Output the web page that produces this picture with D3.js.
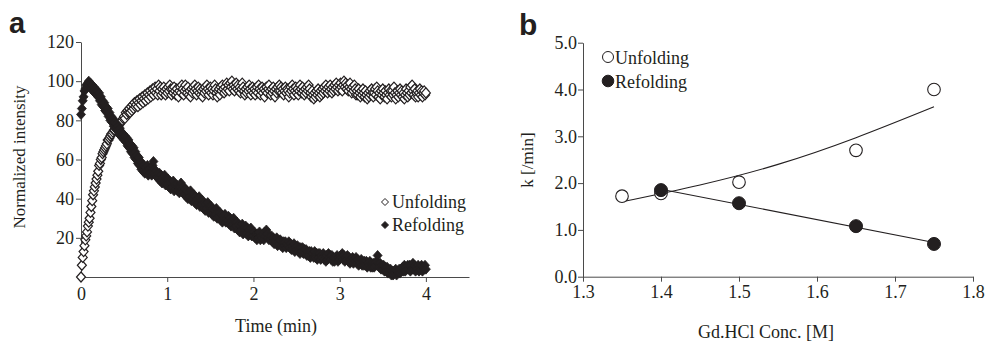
<!DOCTYPE html>
<html>
<head>
<meta charset="utf-8">
<script src="https://cdn.jsdelivr.net/npm/d3@7"></script>
<style>
	body { margin: 0; background: #fff; }
	svg { display: block; font-family: "Liberation Serif", "Times New Roman", serif; }
</style>
</head>
<body>
<svg id="chart" width="987" height="343"></svg>
<script>

// panel a: normalized intensity, one reading every 0.01 min from 0 to 4 min
const timeStep = 0.01;
const unfolding = [
	0,6,10,13,16,19,21,23,26,28,
	30,33,36,39,42,44,46,48,50,52,
	54,57,58,60,61,63,64,65,66,67,
	68,70,70,71,72,73,73,74,75,75,
	76,76,77,77,78,78,79,80,80,81,
	82,81,84,83,85,84,86,84,87,85,
	88,86,89,87,88,90,87,89,91,88,
	90,92,89,91,93,90,92,94,91,93,
	95,92,94,96,93,95,97,94,96,93,
	98,95,97,93,96,94,97,95,93,96,
	94,97,95,98,96,93,96,94,97,95,
	93,96,94,92,95,97,94,98,96,93,
	95,98,96,94,97,93,95,92,96,94,
	97,95,98,96,93,95,97,94,96,93,
	95,92,96,94,97,95,98,96,93,95,
	97,94,96,93,95,98,96,94,92,95,
	96,93,97,95,98,96,94,97,95,99,
	96,98,95,99,97,100,96,98,95,97,
	99,96,98,95,97,94,96,99,97,95,
	93,96,94,97,95,98,96,93,95,97,
	94,96,93,95,97,94,98,96,93,95,
	97,94,96,92,95,97,94,96,98,95,
	93,96,94,97,95,92,96,94,97,95,
	98,95,97,94,96,93,95,97,94,96,
	95,92,94,97,95,98,96,93,95,97,
	94,96,93,95,98,96,94,97,95,93,
	96,94,97,95,98,96,94,92,95,93,
	91,94,92,95,93,96,94,92,95,93,
	96,94,97,95,98,96,94,97,95,98,
	96,94,97,95,98,96,99,97,95,98,
	96,99,97,95,98,100,97,99,96,98,
	95,97,99,96,94,97,95,98,96,93,
	95,93,96,94,92,95,93,96,94,92,
	95,93,91,94,92,95,93,96,94,92,
	94,96,93,97,95,92,94,91,95,93,
	96,94,92,95,93,91,94,96,93,95,
	92,95,93,97,94,91,93,95,92,94,
	96,93,95,92,94,91,93,96,94,92,
	95,93,97,94,98,95,93,96,92,94,
	95,92,94,96,93,95,92,94,95,93,
	94
];
const refolding = [
	83,86,90,92,95,96,98,97,99,100,
	98,99,96,98,95,97,94,96,93,95,
	92,94,90,92,88,90,87,89,85,87,
	84,86,82,84,80,82,79,81,77,79,
	76,78,75,77,73,76,72,74,71,73,
	70,72,69,71,67,70,66,68,64,67,
	63,66,61,64,60,62,58,61,57,59,
	55,58,54,57,53,56,54,57,52,55,
	53,56,52,57,59,55,52,54,51,53,
	50,53,49,52,48,51,49,52,47,50,
	47,50,46,49,45,48,46,49,44,47,
	45,47,44,46,43,46,48,45,43,46,
	42,45,41,44,40,43,41,44,39,42,
	40,42,38,41,37,40,38,41,36,39,
	37,39,35,38,34,37,35,38,33,36,
	34,36,32,35,31,34,32,35,30,33,
	31,33,29,32,28,31,30,32,28,30,
	29,31,27,30,26,29,27,30,25,28,
	26,28,24,27,23,26,24,27,22,25,
	24,26,22,25,21,24,22,25,21,23,
	21,23,20,22,19,22,20,23,19,21,
	20,22,19,23,21,24,22,20,19,21,
	19,21,18,20,17,19,18,20,16,18,
	17,19,16,18,15,18,16,18,15,17,
	16,18,15,17,14,16,14,17,13,15,
	14,16,13,15,12,15,13,15,12,14,
	12,14,11,13,11,13,10,13,11,12,
	10,13,10,12,9,12,10,12,9,11,
	10,12,9,11,8,11,9,12,10,11,
	9,11,8,10,8,10,9,11,8,10,
	9,11,10,12,9,11,8,10,9,11,
	8,10,7,9,8,10,7,9,8,10,
	7,9,6,8,7,9,6,8,6,8,
	6,8,5,7,6,8,5,7,5,7,
	5,7,6,8,11,7,5,7,4,6,
	4,6,3,5,3,5,2,4,2,4,
	1,3,1,3,2,4,1,3,2,4,
	2,4,3,5,3,6,3,5,4,6,
	4,6,3,6,4,7,4,6,3,5,
	4,6,3,5,4,6,3,5,4,6,
	4
];
const timeTicks = [0, 1, 2, 3, 4];
const intensityTicks = [20, 40, 60, 80, 100, 120];

// panel b: rate constants vs denaturant
const concUnfold = [1.35, 1.40, 1.50, 1.65, 1.75];
const kUnfold = [1.72, 1.78, 2.02, 2.70, 4.00];
const concRefold = [1.40, 1.50, 1.65, 1.75];
const kRefold = [1.85, 1.57, 1.08, 0.70];
// fitted curves as they appear in the figure
const fitUnfoldConc = [1.35, 1.45, 1.55, 1.65, 1.75];
const fitUnfoldK = [1.60, 1.96, 2.40, 2.97, 3.63];
const fitRefoldConc = [1.40, 1.75];
const fitRefoldK = [1.87, 0.73];
const concTicks = [1.3, 1.4, 1.5, 1.6, 1.7, 1.8];
const kTicks = [0, 1, 2, 3, 4, 5];

const ink = "#231f20";
const axisInk = "#4a4a4a";

const svg = d3.select("#chart");

function styleAxis(g){
	g.attr("font-family", null)
		.attr("font-size", 18);
	g.select(".domain").attr("stroke", axisInk);
	g.selectAll(".tick line").attr("stroke", axisInk);
	g.selectAll(".tick text").attr("fill", ink);
}

// ---------- panel a ----------
const xA = d3.scaleLinear().domain([0, 4.5]).range([81, 469]);
const yA = d3.scaleLinear().domain([0, 120]).range([277, 42]);

const panelA = svg.append("g").attr("class", "panel-a");

panelA.append("g")
	.attr("transform", `translate(0,${yA(0)})`)
	.call(d3.axisBottom(xA).tickValues(timeTicks).tickFormat(d3.format("d"))
		.tickSize(5).tickSizeOuter(0).tickPadding(5))
	.call(styleAxis);

panelA.append("g")
	.attr("transform", `translate(${xA(0)},0)`)
	.call(d3.axisLeft(yA).tickValues(intensityTicks).tickFormat(d3.format("d"))
		.tickSize(5).tickSizeOuter(0).tickPadding(2))
	.call(styleAxis);

const diamond = "M0,-5L4.5,0L0,5L-4.5,0Z";
const pointsU = unfolding.map((v, i) => ({t: i * timeStep, v}));
const pointsR = refolding.map((v, i) => ({t: i * timeStep, v}));

panelA.append("g")
	.selectAll("path")
	.data(pointsU)
	.enter()
	.append("path")
	.attr("d", diamond)
	.attr("transform", d => `translate(${xA(d.t)},${yA(d.v)})`)
	.attr("fill", "#fff")
	.attr("stroke", ink)
	.attr("stroke-width", 1.2);

panelA.append("g")
	.selectAll("path")
	.data(pointsR)
	.enter()
	.append("path")
	.attr("d", diamond)
	.attr("transform", d => `translate(${xA(d.t)},${yA(d.v)})`)
	.attr("fill", ink)
	.attr("stroke", ink)
	.attr("stroke-width", 0.8);

panelA.append("text")
	.attr("x", 276)
	.attr("y", 332)
	.attr("text-anchor", "middle")
	.attr("fill", ink)
	.style("font-size", "18px")
	.text("Time (min)");

panelA.append("text")
	.attr("transform", "translate(25,157) rotate(-90)")
	.attr("text-anchor", "middle")
	.attr("fill", ink)
	.style("font-size", "17px")
	.text("Normalized intensity");

const legendA = panelA.append("g");
legendA.append("path")
	.attr("d", "M0,-3.5L3.5,0L0,3.5L-3.5,0Z")
	.attr("transform", "translate(385,202)")
	.attr("fill", "#fff").attr("stroke", ink);
legendA.append("path")
	.attr("d", "M0,-3.5L3.5,0L0,3.5L-3.5,0Z")
	.attr("transform", "translate(385,225)")
	.attr("fill", ink).attr("stroke", ink);
legendA.append("text").attr("x", 392).attr("y", 208)
	.attr("fill", ink).style("font-size", "18px").text("Unfolding");
legendA.append("text").attr("x", 392).attr("y", 231)
	.attr("fill", ink).style("font-size", "18px").text("Refolding");

svg.append("text")
	.attr("x", 9)
	.attr("y", 33)
	.attr("fill", ink)
	.style("font-family", "'Liberation Sans', Arial, sans-serif")
	.style("font-weight", "bold")
	.style("font-size", "29px")
	.text("a");

// ---------- panel b ----------
const xB = d3.scaleLinear().domain([1.3, 1.8]).range([583, 973]);
const yB = d3.scaleLinear().domain([0, 5]).range([276.7, 42.7]);

const panelB = svg.append("g").attr("class", "panel-b");

panelB.append("g")
	.attr("transform", `translate(0,${yB(0)})`)
	.call(d3.axisBottom(xB).tickValues(concTicks).tickFormat(d3.format(".1f"))
		.tickSize(5).tickSizeOuter(0).tickPadding(4))
	.call(styleAxis);

panelB.append("g")
	.attr("transform", `translate(${xB(1.3)},0)`)
	.call(d3.axisLeft(yB).tickValues(kTicks).tickFormat(d3.format(".1f"))
		.tickSize(5).tickSizeOuter(0).tickPadding(1))
	.call(styleAxis);

const line = d3.line()
	.x(d => xB(d[0]))
	.y(d => yB(d[1]));

panelB.append("path")
	.datum(d3.zip(fitUnfoldConc, fitUnfoldK))
	.attr("d", line.curve(d3.curveNatural))
	.attr("fill", "none")
	.attr("stroke", ink)
	.attr("stroke-width", 1.1);

panelB.append("path")
	.datum(d3.zip(fitRefoldConc, fitRefoldK))
	.attr("d", line.curve(d3.curveLinear))
	.attr("fill", "none")
	.attr("stroke", ink)
	.attr("stroke-width", 1.1);

panelB.append("g")
	.selectAll("circle")
	.data(d3.zip(concUnfold, kUnfold))
	.enter()
	.append("circle")
	.attr("cx", d => xB(d[0]))
	.attr("cy", d => yB(d[1]))
	.attr("r", 6.3)
	.attr("fill", "#fff")
	.attr("stroke", ink)
	.attr("stroke-width", 1.1);

panelB.append("g")
	.selectAll("circle")
	.data(d3.zip(concRefold, kRefold))
	.enter()
	.append("circle")
	.attr("cx", d => xB(d[0]))
	.attr("cy", d => yB(d[1]))
	.attr("r", 6.5)
	.attr("fill", ink)
	.attr("stroke", ink);

panelB.append("text")
	.attr("x", 766)
	.attr("y", 338)
	.attr("text-anchor", "middle")
	.attr("fill", ink)
	.style("font-size", "18px")
	.text("Gd.HCl Conc. [M]");

panelB.append("text")
	.attr("transform", "translate(533,160) rotate(-90)")
	.attr("text-anchor", "middle")
	.attr("fill", ink)
	.style("font-size", "17px")
	.text("k [/min]");

const legendB = panelB.append("g");
legendB.append("circle").attr("cx", 608).attr("cy", 57).attr("r", 5.5)
	.attr("fill", "#fff").attr("stroke", ink);
legendB.append("circle").attr("cx", 608).attr("cy", 81).attr("r", 5.8)
	.attr("fill", ink).attr("stroke", ink);
legendB.append("text").attr("x", 615).attr("y", 64)
	.attr("fill", ink).style("font-size", "18px").text("Unfolding");
legendB.append("text").attr("x", 615).attr("y", 88)
	.attr("fill", ink).style("font-size", "18px").text("Refolding");

svg.append("text")
	.attr("x", 519)
	.attr("y", 35)
	.attr("fill", ink)
	.style("font-family", "'Liberation Sans', Arial, sans-serif")
	.style("font-weight", "bold")
	.style("font-size", "30px")
	.text("b");

</script>
</body>
</html>
